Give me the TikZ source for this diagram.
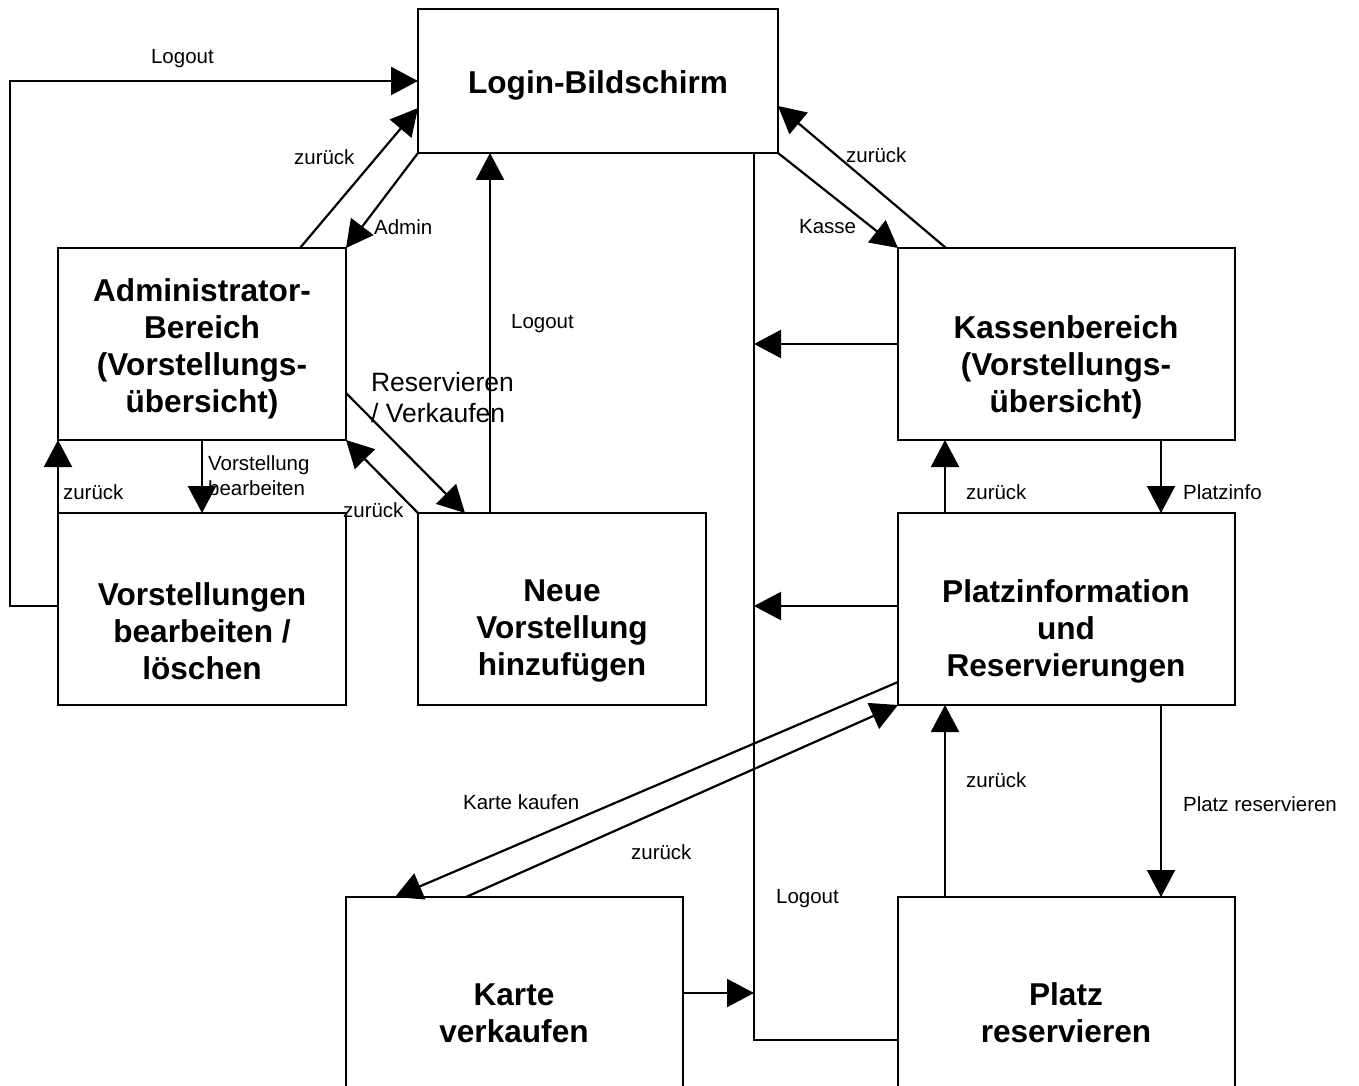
\documentclass[tikz,border=0pt]{standalone}
\usepackage{fontspec}
\setmainfont{Liberation Sans}
\usetikzlibrary{arrows.meta,calc}
\begin{document}
\begin{tikzpicture}[x=1pt,y=-1pt,
  line width=2.2pt,
  screen/.style={draw, rectangle, inner sep=0pt, outer sep=0pt, anchor=north west},
  title/.style={align=center, font=\fontsize{31.6}{37}\selectfont\bfseries, inner sep=0pt},
  lbl/.style={anchor=west, inner sep=0pt, font=\fontsize{20.5}{25}\selectfont},
  biglbl/.style={anchor=north west, align=left, inner sep=0pt, font=\fontsize{26.5}{31}\selectfont},
  arr/.style={-{Triangle[length=27pt,width=28pt]}}
]
\useasboundingbox (0,0) rectangle (1359,1086);

% screens
\node[screen, minimum width=360pt, minimum height=144pt] (login)     at (418,9)   {};
\node[screen, minimum width=288pt, minimum height=192pt] (admin)     at (58,248)  {};
\node[screen, minimum width=288pt, minimum height=192pt] (vorst)     at (58,513)  {};
\node[screen, minimum width=288pt, minimum height=192pt] (neue)      at (418,513) {};
\node[screen, minimum width=337pt, minimum height=192pt] (kassen)    at (898,248) {};
\node[screen, minimum width=337pt, minimum height=192pt] (platzinfo) at (898,513) {};
\node[screen, minimum width=337pt, minimum height=192pt] (karte)     at (346,897) {};
\node[screen, minimum width=337pt, minimum height=192pt] (platz)     at (898,897) {};

% screen titles
\node[title] (loginT)     at (598,85)   {Login-Bildschirm};
\node[title] (adminT)     at (202,349)  {Administrator-\\Bereich\\(Vorstellungs-\\übersicht)};
\node[title] (vorstT)     at (202,631)  {Vorstellungen\\bearbeiten /\\löschen};
\node[title] (neueT)      at (562,631)  {Neue\\Vorstellung\\hinzufügen};
\node[title] (kassenT)    at (1066,367) {Kassenbereich\\(Vorstellungs-\\übersicht)};
\node[title] (platzinfoT) at (1066,631) {Platzinformation\\und\\Reservierungen};
\node[title] (karteT)     at (514,1013) {Karte\\verkaufen};
\node[title] (platzT)     at (1066,1013) {Platz\\reservieren};

% logout bus on the cashier side
\coordinate (busTop)  at ($(login.south west)+(336,0)$);
\coordinate (pinOut)  at ($(platzinfo.north west)+(0,93)$);
\coordinate (karOut)  at ($(karte.north east)+(0,96)$);
\coordinate (platOut) at ($(platz.north west)+(0,143)$);
\draw (platOut) -| (busTop);
\draw[arr] (kassen.west) -- (kassen.west -| busTop);
\draw[arr] (pinOut) -- (pinOut -| busTop);
\draw[arr] (karOut) -- (karOut -| busTop);

% admin side
\draw[arr] ($(vorst.north west)+(0,93)$) -- ++(-48,0) |- (login.west);
\draw[arr] ($(admin.north west)+(242,0)$) -- ($(login.north west)+(0,99)$);
\draw[arr] (login.south west) -- (admin.north east);
\draw[arr] ($(neue.north west)+(72,0)$) -- ($(login.south west)+(72,0)$);
\draw[arr] ($(admin.north east)+(0,145)$) -- ($(neue.north west)+(47,0)$);
\draw[arr] (neue.north west) -- (admin.south east);
\draw[arr] (admin.south) -- (vorst.north);
\draw[arr] (vorst.north west) -- (admin.south west);

% cashier side
\draw[arr] (login.south east) -- (kassen.north west);
\draw[arr] ($(kassen.north west)+(48,0)$) -- ($(login.north east)+(0,97)$);
\draw[arr] ($(kassen.south west)+(263,0)$) -- ($(platzinfo.north west)+(263,0)$);
\draw[arr] ($(platzinfo.north west)+(47,0)$) -- ($(kassen.south west)+(47,0)$);
\draw[arr] ($(platzinfo.north west)+(0,169)$) -- ($(karte.north west)+(49,0)$);
\draw[arr] ($(karte.north west)+(120,0)$) -- (platzinfo.south west);
\draw[arr] ($(platzinfo.south west)+(263,0)$) -- ($(platz.north west)+(263,0)$);
\draw[arr] ($(platz.north west)+(47,0)$) -- ($(platzinfo.south west)+(47,0)$);

% transition labels
\node[lbl] (lLogoutTop)   at (150,59)  {Logout};
\node[lbl] (lZurueckA)    at (293,157) {zurück};
\node[lbl] (lAdmin)       at (373,227) {Admin};
\node[lbl] (lLogoutNeue)  at (510,324) {Logout};
\node[biglbl] (lResVerk)  at (370,371) {Reservieren\\/ Verkaufen};
\node[lbl] (lZurueckN)    at (342,510) {zurück};
\node[lbl, anchor=north west, align=left] (lBearb) at (207,455) {Vorstellung\\bearbeiten};
\node[lbl] (lZurueckV)    at (62,492)  {zurück};
\node[lbl] (lKasse)       at (798,227) {Kasse};
\node[lbl] (lZurueckK)    at (845,155) {zurück};
\node[lbl] (lPlatzinfo)   at (1182,492) {Platzinfo};
\node[lbl] (lZurueckP)    at (965,492) {zurück};
\node[lbl] (lKaufen)      at (462,802) {Karte kaufen};
\node[lbl] (lZurueckKa)   at (630,852) {zurück};
\node[lbl] (lLogoutBus)   at (775,899) {Logout};
\node[lbl] (lZurueckR)    at (965,780) {zurück};
\node[lbl] (lReserv)      at (1182,804) {Platz reservieren};
\end{tikzpicture}
\end{document}
